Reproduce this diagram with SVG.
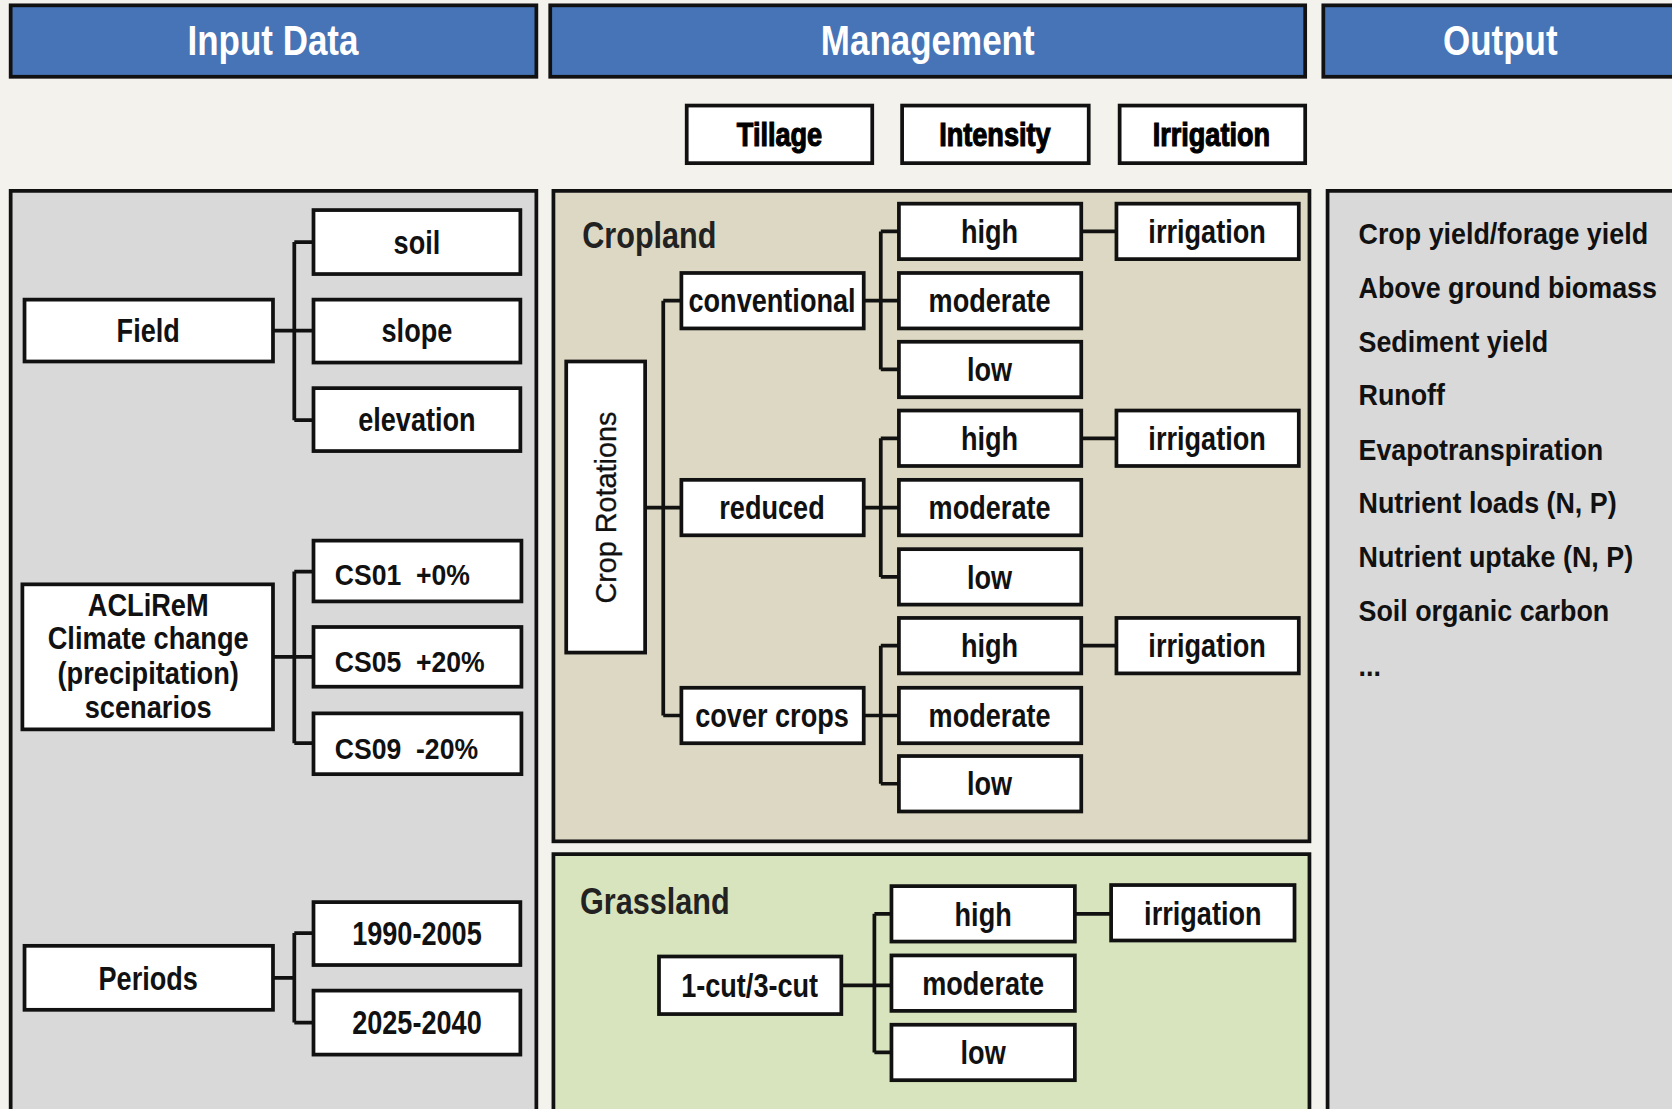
<svg xmlns="http://www.w3.org/2000/svg" width="1672" height="1109" viewBox="0 0 1672 1109">
<style>
.hdr{fill:#4674b6;stroke:#111;stroke-width:3.5}
.hdrt{font-family:'Liberation Sans',Arial,sans-serif;font-weight:bold;font-size:40px;fill:#fff;text-anchor:middle}
.panel{stroke:#111;stroke-width:3.5}
.box{fill:#fff;stroke:#111;stroke-width:3.5}
.lbl{font-family:'Liberation Sans',Arial,sans-serif;font-weight:bold;font-size:31px;fill:#111;text-anchor:middle}
.tab{font-family:'Liberation Sans',Arial,sans-serif;font-weight:bold;font-size:31px;fill:#000;stroke:#000;stroke-width:1.1;text-anchor:middle}
.ttl{font-family:'Liberation Sans',Arial,sans-serif;font-weight:bold;font-size:35px;fill:#222}
.cal{font-family:'Liberation Sans',Arial,sans-serif;font-weight:bold;font-size:28px;fill:#111}
.calm{font-family:'Liberation Sans',Arial,sans-serif;font-weight:bold;font-size:29px;fill:#111;text-anchor:middle}
.rot{font-family:'Liberation Sans',Arial,sans-serif;font-size:27px;fill:#111;text-anchor:middle;stroke:#111;stroke-width:0.3}
.conn{stroke:#111;stroke-width:3.5;fill:none}
</style>
<rect x="0" y="0" width="1672" height="1109" fill="#f4f2ed"/>
<g transform="scale(1.066327)">
<!-- headers -->
<g id="hdr-input"><rect class="hdr" x="10" y="5" width="493" height="67"/><text class="hdrt" transform="translate(256,52) scale(0.82,1)">Input Data</text></g>
<g id="hdr-management"><rect class="hdr" x="516" y="5" width="708" height="67"/><text class="hdrt" transform="translate(870,52) scale(0.82,1)">Management</text></g>
<g id="hdr-output"><rect class="hdr" x="1241" y="5" width="345" height="67"/><text class="hdrt" transform="translate(1407,52) scale(0.82,1)">Output</text></g>
<g id="tab-tillage"><rect class="box" x="644" y="99" width="174" height="54"/><text class="tab" transform="translate(731,137) scale(0.82,1)">Tillage</text></g>
<g id="tab-intensity"><rect class="box" x="846" y="99" width="175" height="54"/><text class="tab" transform="translate(933,137) scale(0.82,1)">Intensity</text></g>
<g id="tab-irrigation"><rect class="box" x="1050" y="99" width="174" height="54"/><text class="tab" transform="translate(1136,137) scale(0.82,1)">Irrigation</text></g>
<!-- panels -->
<g id="panel-input"><rect class="panel" x="10" y="179" width="493" height="880" fill="#d9d9d9"/></g>
<g id="panel-cropland"><rect class="panel" x="519" y="179" width="709" height="610" fill="#ddd8c3"/><text class="ttl" transform="translate(546,233) scale(0.82,1)">Cropland</text></g>
<g id="panel-grassland"><rect class="panel" x="519" y="801" width="709" height="260" fill="#d8e4bd"/><text class="ttl" transform="translate(544,857) scale(0.82,1)">Grassland</text></g>
<g id="panel-output"><rect class="panel" x="1245" y="179" width="340" height="880" fill="#d9d9d9"/>
<text class="cal" transform="translate(1274,229) scale(0.9,1)">Crop yield/forage yield</text>
<text class="cal" transform="translate(1274,279) scale(0.9,1)">Above ground biomass</text>
<text class="cal" transform="translate(1274,330) scale(0.9,1)">Sediment yield</text>
<text class="cal" transform="translate(1274,380) scale(0.9,1)">Runoff</text>
<text class="cal" transform="translate(1274,431) scale(0.9,1)">Evapotranspiration</text>
<text class="cal" transform="translate(1274,481) scale(0.9,1)">Nutrient loads (N, P)</text>
<text class="cal" transform="translate(1274,532) scale(0.9,1)">Nutrient uptake (N, P)</text>
<text class="cal" transform="translate(1274,582) scale(0.9,1)">Soil organic carbon</text>
<text class="cal" transform="translate(1274,634) scale(0.9,1)">...</text>
</g>
<!-- connectors -->
<g id="connectors">
<path class="conn" d="M256,310 H294 M276,227 V394 M276,227 H294 M276,394 H294"/>
<path class="conn" d="M256,616 H294 M276,536 V697 M276,536 H294 M276,697 H294"/>
<path class="conn" d="M256,917 H276 M276,875 V959 M276,875 H294 M276,959 H294"/>
<path class="conn" d="M605,476 H639 M622,282 V671 M622,282 H639 M622,671 H639"/>
<path class="conn" d="M810,282 H843 M826,217 V346.5 M826,217 H843 M826,346.5 H843"/>
<path class="conn" d="M810,476 H843 M826,411 V541 M826,411 H843 M826,541 H843"/>
<path class="conn" d="M810,671 H843 M826,605.5 V735 M826,605.5 H843 M826,735 H843"/>
<path class="conn" d="M1014,217 H1047 M1014,411 H1047 M1014,605.5 H1047"/>
<path class="conn" d="M789,924 H836 M820,857 V987 M820,857 H836 M820,987 H836 M1008,857 H1042"/>
</g>
<!-- input nodes -->
<g id="n-field"><rect class="box" x="23" y="281" width="233" height="58"/><text class="lbl" transform="translate(139,321) scale(0.82,1)">Field</text></g>
<g id="n-soil"><rect class="box" x="294" y="197" width="194" height="60"/><text class="lbl" transform="translate(391,238) scale(0.82,1)">soil</text></g>
<g id="n-slope"><rect class="box" x="294" y="281" width="194" height="59"/><text class="lbl" transform="translate(391,321) scale(0.82,1)">slope</text></g>
<g id="n-elevation"><rect class="box" x="294" y="364" width="194" height="59"/><text class="lbl" transform="translate(391,404) scale(0.82,1)">elevation</text></g>
<g id="n-aclirem"><rect class="box" x="21" y="548" width="235" height="136"/>
<text class="calm" transform="translate(139,578) scale(0.88,1)">ACLiReM</text>
<text class="calm" transform="translate(139,609) scale(0.88,1)">Climate change</text>
<text class="calm" transform="translate(139,641) scale(0.88,1)">(precipitation)</text>
<text class="calm" transform="translate(139,673) scale(0.88,1)">scenarios</text></g>
<g id="n-cs01"><rect class="box" x="294" y="507" width="195" height="57"/><text class="cal" transform="translate(314,549) scale(0.89,1)" xml:space="preserve">CS01  +0%</text></g>
<g id="n-cs05"><rect class="box" x="294" y="588" width="195" height="56"/><text class="cal" transform="translate(314,630) scale(0.89,1)" xml:space="preserve">CS05  +20%</text></g>
<g id="n-cs09"><rect class="box" x="294" y="669" width="195" height="57"/><text class="cal" transform="translate(314,712) scale(0.89,1)" xml:space="preserve">CS09  -20%</text></g>
<g id="n-periods"><rect class="box" x="23" y="887" width="233" height="60"/><text class="lbl" transform="translate(139,928) scale(0.82,1)">Periods</text></g>
<g id="n-p1990"><rect class="box" x="294" y="846" width="194" height="59"/><text class="lbl" transform="translate(391,886) scale(0.82,1)">1990-2005</text></g>
<g id="n-p2025"><rect class="box" x="294" y="929" width="194" height="60"/><text class="lbl" transform="translate(391,970) scale(0.82,1)">2025-2040</text></g>
<!-- cropland nodes -->
<g id="n-croprot"><rect class="box" x="531" y="339" width="74" height="273"/><text class="rot" transform="translate(578,476) rotate(-90)">Crop Rotations</text></g>
<g id="n-conventional"><rect class="box" x="639" y="256" width="171" height="52"/><text class="lbl" transform="translate(724,293) scale(0.82,1)">conventional</text></g>
<g id="n-reduced"><rect class="box" x="639" y="450" width="171" height="52"/><text class="lbl" transform="translate(724,487) scale(0.82,1)">reduced</text></g>
<g id="n-cover"><rect class="box" x="639" y="645" width="171" height="52"/><text class="lbl" transform="translate(724,682) scale(0.82,1)">cover crops</text></g>
<g id="n-c-high"><rect class="box" x="843" y="191" width="171" height="52"/><text class="lbl" transform="translate(928,228) scale(0.82,1)">high</text></g>
<g id="n-c-mod"><rect class="box" x="843" y="256" width="171" height="52"/><text class="lbl" transform="translate(928,293) scale(0.82,1)">moderate</text></g>
<g id="n-c-low"><rect class="box" x="843" y="320.5" width="171" height="52"/><text class="lbl" transform="translate(928,357.5) scale(0.82,1)">low</text></g>
<g id="n-c-irr"><rect class="box" x="1047" y="191" width="171" height="52"/><text class="lbl" transform="translate(1132,228) scale(0.82,1)">irrigation</text></g>
<g id="n-r-high"><rect class="box" x="843" y="385" width="171" height="52"/><text class="lbl" transform="translate(928,422) scale(0.82,1)">high</text></g>
<g id="n-r-mod"><rect class="box" x="843" y="450" width="171" height="52"/><text class="lbl" transform="translate(928,487) scale(0.82,1)">moderate</text></g>
<g id="n-r-low"><rect class="box" x="843" y="515" width="171" height="52"/><text class="lbl" transform="translate(928,552) scale(0.82,1)">low</text></g>
<g id="n-r-irr"><rect class="box" x="1047" y="385" width="171" height="52"/><text class="lbl" transform="translate(1132,422) scale(0.82,1)">irrigation</text></g>
<g id="n-v-high"><rect class="box" x="843" y="579.5" width="171" height="52"/><text class="lbl" transform="translate(928,616.5) scale(0.82,1)">high</text></g>
<g id="n-v-mod"><rect class="box" x="843" y="645" width="171" height="52"/><text class="lbl" transform="translate(928,682) scale(0.82,1)">moderate</text></g>
<g id="n-v-low"><rect class="box" x="843" y="709" width="171" height="52"/><text class="lbl" transform="translate(928,746) scale(0.82,1)">low</text></g>
<g id="n-v-irr"><rect class="box" x="1047" y="579.5" width="171" height="52"/><text class="lbl" transform="translate(1132,616.5) scale(0.82,1)">irrigation</text></g>
<!-- grassland nodes -->
<g id="n-cut"><rect class="box" x="618" y="897" width="171" height="54"/><text class="lbl" transform="translate(703,935) scale(0.82,1)">1-cut/3-cut</text></g>
<g id="n-g-high"><rect class="box" x="836" y="831" width="172" height="52"/><text class="lbl" transform="translate(922,868) scale(0.82,1)">high</text></g>
<g id="n-g-mod"><rect class="box" x="836" y="896" width="172" height="52"/><text class="lbl" transform="translate(922,933) scale(0.82,1)">moderate</text></g>
<g id="n-g-low"><rect class="box" x="836" y="961" width="172" height="52"/><text class="lbl" transform="translate(922,998) scale(0.82,1)">low</text></g>
<g id="n-g-irr"><rect class="box" x="1042" y="830" width="172" height="52"/><text class="lbl" transform="translate(1128,867) scale(0.82,1)">irrigation</text></g>
</g>
</svg>
